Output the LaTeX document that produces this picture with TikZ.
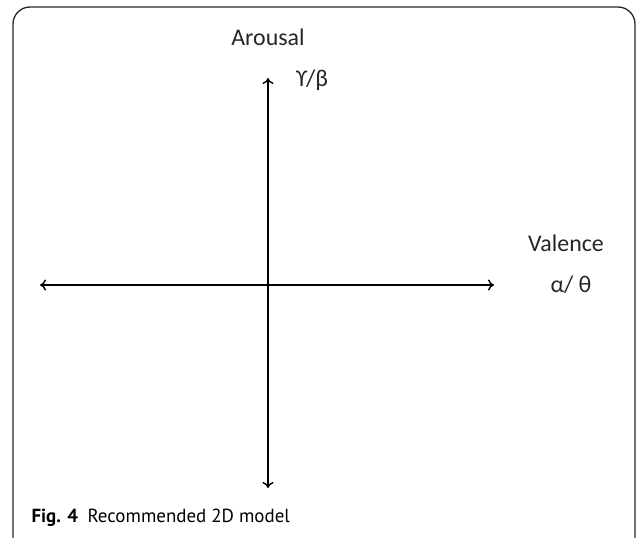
\documentclass[tikz,border=0pt]{standalone}
\usepackage{fontspec}
\setmainfont{Carlito}
\newfontfamily\capfont{PT Sans}
\usetikzlibrary{arrows.meta}
\begin{document}
\begin{tikzpicture}[x=1bp, y=-1bp, every node/.style={font=\fontsize{24}{28}\selectfont, text=black!85},
    axis/.style={line width=1.4bp, {To[length=6bp,width=11bp]}-{To[length=6bp,width=11bp]}}]
  \useasboundingbox (0,0) rectangle (637,538);

  % frame
  \draw[line width=1.3bp, black!85, rounded corners=17bp] (13,560) -- (13,7) -- (635,7) -- (635,560);

  % axes
  \coordinate (top) at (268,78);
  \coordinate (bottom) at (268,488);
  \coordinate (left) at (40,285);
  \coordinate (right) at (494,285);

  \draw[axis] (bottom) -- (top);
  \draw[axis] (left) -- (right);

  % labels
  \node (arousal) at (268,37) {Arousal};
  \node (ab) at (312,80) {ϒ/β};
  \node (valence) at (566,243) {Valence};
  \node (at) at (571,285) {α/ θ};

  % caption
  \node[anchor=west, font=\capfont\fontsize{19}{22}\selectfont, text=black] (cap) at (28,518)
    {\textbf{Fig. 4}\hspace{0.5em}Recommended 2D model};
\end{tikzpicture}
\end{document}
